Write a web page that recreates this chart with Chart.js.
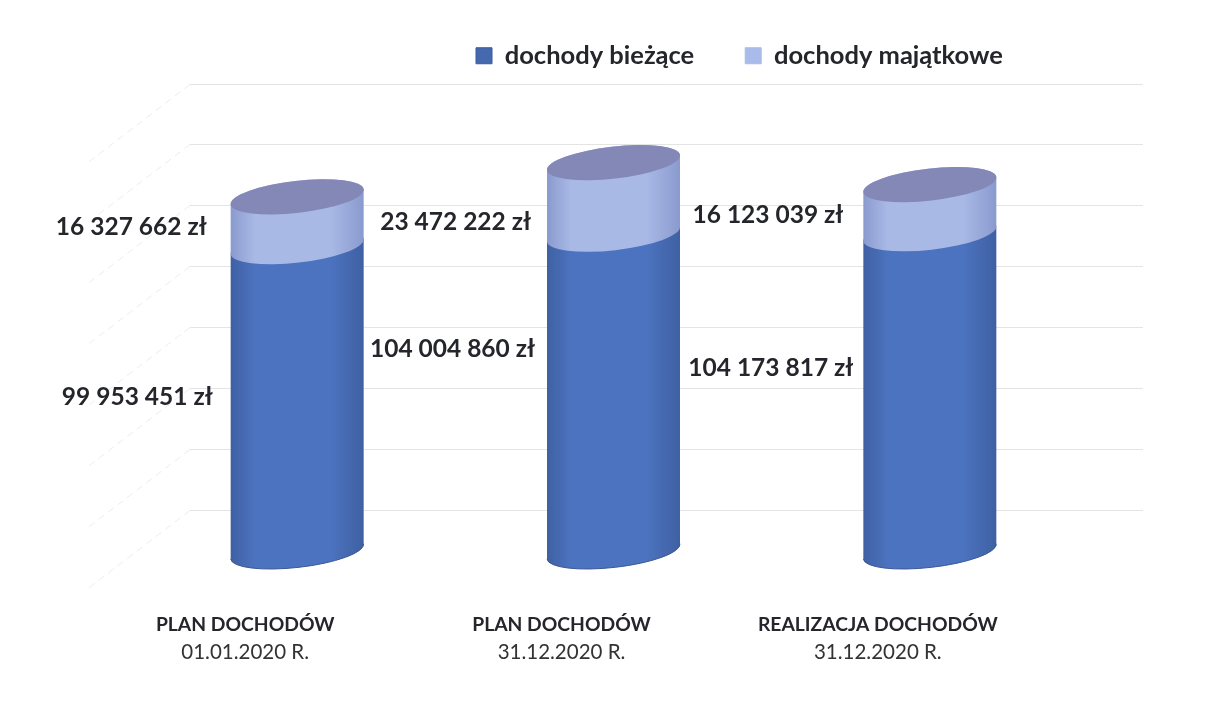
<!DOCTYPE html>
<html lang="pl">
<head>
<meta charset="utf-8">
<title>Dochody</title>
<script src="https://cdn.jsdelivr.net/npm/chart.js@4/dist/chart.umd.min.js"></script>
<style>
  html, body { margin: 0; background: #fff; }
  canvas { display: block; }
</style>
</head>
<body>
<canvas id="myChart" width="1213" height="702"></canvas>
<script>
const seriesNames = ['dochody bieżące', 'dochody majątkowe'];
const categories = ['PLAN DOCHODÓW', 'PLAN DOCHODÓW', 'REALIZACJA DOCHODÓW'];
const dateLabels = ['01.01.2020 R.', '31.12.2020 R.', '31.12.2020 R.'];
const currentIncome = [99953451, 104004860, 104173817];
const assetIncome = [16327662, 23472222, 16123039];

// where each value label sits: right edge from the bar's left side, y from the segment middle
const labelShift = [
    [[-18, -1.5], [-12, -43.5], [-10, -24.5]],
    [[-24, 5.5], [-16, 24], [-20, 6]]
];

const FONT = 'Lato, Carlito, sans-serif';
const TILT = -6.5 * Math.PI / 180;
const RY = 16;
const WALL_BACK = 41;

const zl = (v) => String(v).replace(/\B(?=(\d{3})+$)/g, ' ') + ' zł';

const shades = [
    { edge: '#3f60a3', mid: '#4c73bf' },
    { edge: '#8a9ace', mid: '#a8b9e6' }
];

const cylinderFill = (ctx, left, right, s) => {
    const g = ctx.createLinearGradient(left, 0, right, 0);
    g.addColorStop(0, s.edge);
    g.addColorStop(0.18, s.mid);
    g.addColorStop(0.75, s.mid);
    g.addColorStop(1, s.edge);
    return g;
};

// back wall and side wall lines, taken from the y scale ticks
const wallLines = {
    id: 'wallLines',
    beforeDatasetsDraw(chart) {
        const { ctx, scales } = chart;
        const x0 = chart.chartArea.left + 51;
        const x1 = chart.chartArea.right + 55;
        ctx.save();
        ctx.lineWidth = 1;
        scales.y.ticks.forEach((t) => {
            const y = Math.round(scales.y.getPixelForValue(t.value) - WALL_BACK) + 0.5;
            ctx.strokeStyle = '#e4e4e4';
            ctx.setLineDash([]);
            ctx.beginPath();
            ctx.moveTo(x0, y);
            ctx.lineTo(x1, y);
            ctx.stroke();
            ctx.strokeStyle = '#ececec';
            ctx.setLineDash([7, 5]);
            ctx.beginPath();
            ctx.moveTo(x0, y);
            ctx.lineTo(x0 - 102, y + 78);
            ctx.stroke();
        });
        ctx.restore();
    }
};

const cylinders = {
    id: 'cylinders',
    beforeDatasetDraw() {
        return false;
    },
    afterDatasetsDraw(chart) {
        const { ctx } = chart;
        ctx.save();
        chart.data.datasets.forEach((ds, i) => {
            chart.getDatasetMeta(i).data.forEach((bar) => {
                const rx = bar.width / 2 + 0.5;
                const left = bar.x - bar.width / 2;
                const right = bar.x + bar.width / 2;
                ctx.beginPath();
                ctx.ellipse(bar.x, bar.base, rx, RY, TILT, 0, Math.PI, false);
                ctx.ellipse(bar.x, bar.y, rx, RY, TILT, Math.PI, Math.PI * 2, false);
                ctx.closePath();
                ctx.fillStyle = cylinderFill(ctx, left, right, shades[i]);
                ctx.fill();
                if (i === 0) {
                    ctx.beginPath();
                    ctx.ellipse(bar.x, bar.base, rx, RY, TILT, 0, Math.PI, false);
                    ctx.strokeStyle = '#3a5796';
                    ctx.lineWidth = 1;
                    ctx.stroke();
                } else {
                    ctx.beginPath();
                    ctx.ellipse(bar.x, bar.y, rx, RY, TILT, 0, Math.PI * 2);
                    ctx.fillStyle = '#8388b7';
                    ctx.fill();
                }
            });
        });
        // value labels
        ctx.font = 'bold 24.5px ' + FONT;
        ctx.fillStyle = '#25262b';
        ctx.textAlign = 'right';
        ctx.textBaseline = 'middle';
        chart.data.datasets.forEach((ds, i) => {
            chart.getDatasetMeta(i).data.forEach((bar, j) => {
                const [dx, dy] = labelShift[i][j];
                ctx.fillText(zl(ds.data[j]), bar.x - bar.width / 2 + dx, (bar.y + bar.base) / 2 + dy);
            });
        });
        ctx.restore();
    }
};

// the legend sits off centre in the original
const moveLegend = {
    id: 'moveLegend',
    afterLayout(chart) {
        chart.legend.left = 425;
        chart.legend.top = -8;
    }
};

new Chart(document.getElementById('myChart'), {
    type: 'bar',
    data: {
        labels: categories,
        datasets: [
            {
                label: seriesNames[0],
                data: currentIncome,
                backgroundColor: '#4668ae',
                borderColor: '#3a5a9c',
                borderWidth: 1
            },
            {
                label: seriesNames[1],
                data: assetIncome,
                backgroundColor: '#a9bbe8',
                borderColor: '#a9bbe8',
                borderWidth: 1
            }
        ]
    },
    plugins: [wallLines, cylinders, moveLegend],
    options: {
        responsive: false,
        animation: false,
        layout: { padding: { left: 131, right: 125, top: 38, bottom: 37 } },
        datasets: { bar: { categoryPercentage: 1, barPercentage: 0.42 } },
        plugins: {
            tooltip: { enabled: false },
            legend: {
                position: 'top',
                align: 'start',
                labels: {
                    boxWidth: 16,
                    boxHeight: 16,
                    padding: 51,
                    color: '#25262b',
                    font: { family: FONT, size: 25.5, weight: 'bold' }
                }
            }
        },
        scales: {
            x: {
                stacked: true,
                weight: 0,
                grid: { display: false },
                border: { display: false },
                afterFit(scale) {
                    scale.height = 81;
                },
                ticks: {
                    padding: 54,
                    labelOffset: -52,
                    color: '#25262b',
                    maxRotation: 0,
                    autoSkip: false,
                    font: { family: FONT, size: 19.3, weight: 'bold' }
                }
            },
            x2: {
                type: 'category',
                position: 'bottom',
                weight: 1,
                labels: dateLabels,
                grid: { display: false },
                border: { display: false },
                ticks: {
                    padding: 0,
                    labelOffset: -52,
                    color: '#333',
                    maxRotation: 0,
                    autoSkip: false,
                    font: { family: FONT, size: 20.5 }
                }
            },
            y: {
                stacked: true,
                min: 0,
                max: 140000000,
                grid: { display: false },
                border: { display: false },
                ticks: { display: false, stepSize: 20000000 }
            }
        }
    }
});
</script>
</body>
</html>
